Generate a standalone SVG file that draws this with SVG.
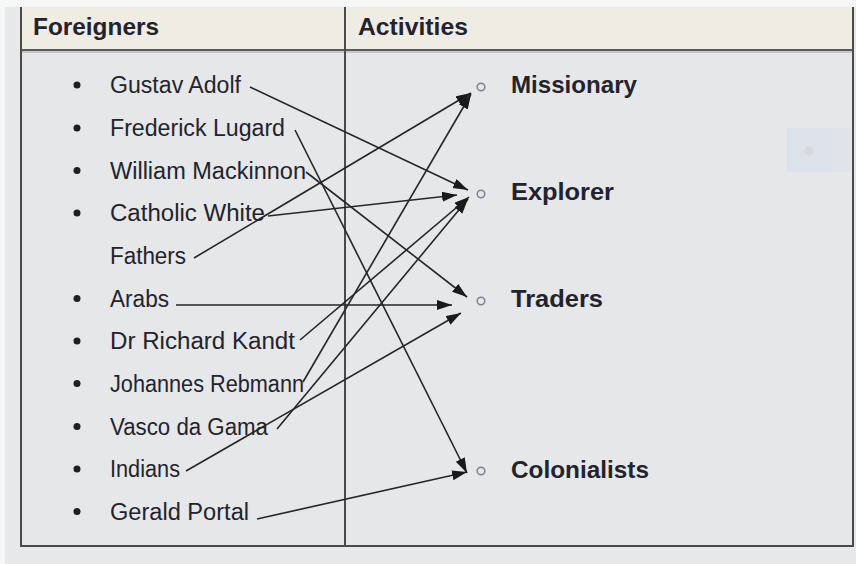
<svg xmlns="http://www.w3.org/2000/svg" width="856" height="564" viewBox="0 0 856 564">
  <style>
    .hdr { font-family: "Liberation Sans", Arial, sans-serif; font-weight: bold; font-size: 24px; fill: #23232e; }
    .item { font-family: "Liberation Sans", Arial, sans-serif; font-size: 23px; fill: #23232e; }
    .act { font-family: "Liberation Sans", Arial, sans-serif; font-weight: bold; font-size: 24px; fill: #23232e; }
    .bullet { fill: #1e1e24; }
    .ring { fill: none; stroke: #7d8294; stroke-width: 1.5; }
    .frame { fill: none; stroke: #4a4a4a; stroke-width: 2; }
    .link { fill: none; stroke: #262626; stroke-width: 1.6; marker-end: url(#arrow); }
  </style>
  <defs>
    <marker id="arrow" markerUnits="userSpaceOnUse" markerWidth="16" markerHeight="11" refX="15" refY="5" orient="auto">
      <path d="M0,0 L15,5 L0,10 Z" fill="#1a1a1a"/>
    </marker>
  </defs>

  <!-- page -->
  <rect x="0" y="0" width="856" height="564" fill="#f6f7f7"/>
  <rect x="5" y="7" width="851" height="557" fill="#e7e8ea"/>

  <!-- table -->
  <g id="table">
    <rect x="21" y="7" width="832" height="43" fill="#efece3"/>
    <rect x="21" y="50" width="832" height="496" fill="#e6e7e9"/>
    <line x1="21" y1="50" x2="853" y2="50" stroke="#5a5a5a" stroke-width="2"/>
    <line x1="21" y1="52" x2="853" y2="52" stroke="#a9a9a9" stroke-width="1"/>
    <line x1="345" y1="7" x2="345" y2="546" stroke="#4a4a4a" stroke-width="2"/>
    <path class="frame" d="M21,7 V546 H853 V7"/>
    <text class="hdr" x="33" y="35" textLength="126" lengthAdjust="spacingAndGlyphs">Foreigners</text>
    <text class="hdr" x="358" y="35" textLength="110" lengthAdjust="spacingAndGlyphs">Activities</text>
  </g>

  <!-- faint mark on the right -->
  <rect x="787" y="128" width="63" height="44" fill="#dce2e9"/>
  <rect x="832" y="128" width="18" height="44" fill="#e0e4ea"/>
  <circle cx="809" cy="151" r="4.5" fill="#d5d8dc"/>

  <!-- foreigners -->
  <g id="gustav-adolf"><circle class="bullet" cx="77" cy="85" r="3.5"/><text class="item" x="110" y="93" textLength="131" lengthAdjust="spacingAndGlyphs">Gustav Adolf</text></g>
  <g id="frederick-lugard"><circle class="bullet" cx="77" cy="128" r="3.5"/><text class="item" x="110" y="136" textLength="175" lengthAdjust="spacingAndGlyphs">Frederick Lugard</text></g>
  <g id="william-mackinnon"><circle class="bullet" cx="77" cy="170.5" r="3.5"/><text class="item" x="110" y="178.5" textLength="196" lengthAdjust="spacingAndGlyphs">William Mackinnon</text></g>
  <g id="catholic-white-fathers"><circle class="bullet" cx="77" cy="213" r="3.5"/><text class="item" x="110" y="221" textLength="155" lengthAdjust="spacingAndGlyphs">Catholic White</text><text class="item" x="110" y="263.5" textLength="76" lengthAdjust="spacingAndGlyphs">Fathers</text></g>
  <g id="arabs"><circle class="bullet" cx="77" cy="298.5" r="3.5"/><text class="item" x="110" y="306.5" textLength="59" lengthAdjust="spacingAndGlyphs">Arabs</text></g>
  <g id="richard-kandt"><circle class="bullet" cx="77" cy="341" r="3.5"/><text class="item" x="110" y="349" textLength="185" lengthAdjust="spacingAndGlyphs">Dr Richard Kandt</text></g>
  <g id="johannes-rebmann"><circle class="bullet" cx="77" cy="383.5" r="3.5"/><text class="item" x="110" y="391.5" textLength="194" lengthAdjust="spacingAndGlyphs">Johannes Rebmann</text></g>
  <g id="vasco-da-gama"><circle class="bullet" cx="77" cy="426.5" r="3.5"/><text class="item" x="110" y="434.5" textLength="158" lengthAdjust="spacingAndGlyphs">Vasco da Gama</text></g>
  <g id="indians"><circle class="bullet" cx="77" cy="469" r="3.5"/><text class="item" x="110" y="477" textLength="70" lengthAdjust="spacingAndGlyphs">Indians</text></g>
  <g id="gerald-portal"><circle class="bullet" cx="77" cy="511.5" r="3.5"/><text class="item" x="110" y="519.5" textLength="139" lengthAdjust="spacingAndGlyphs">Gerald Portal</text></g>

  <!-- activities -->
  <g id="missionary"><circle class="ring" cx="481" cy="87" r="3.8"/><text class="act" x="511" y="93" textLength="126" lengthAdjust="spacingAndGlyphs">Missionary</text></g>
  <g id="explorer"><circle class="ring" cx="481" cy="194" r="3.8"/><text class="act" x="511" y="200" textLength="103" lengthAdjust="spacingAndGlyphs">Explorer</text></g>
  <g id="traders"><circle class="ring" cx="481" cy="301" r="3.8"/><text class="act" x="511" y="307" textLength="92" lengthAdjust="spacingAndGlyphs">Traders</text></g>
  <g id="colonialists"><circle class="ring" cx="481" cy="471" r="3.8"/><text class="act" x="511" y="478" textLength="138" lengthAdjust="spacingAndGlyphs">Colonialists</text></g>

  <!-- connectors -->
  <g id="connectors">
    <line class="link" x1="250" y1="87" x2="468" y2="190"/>
    <line class="link" x1="295" y1="130" x2="467" y2="473"/>
    <line class="link" x1="306" y1="172" x2="467" y2="297"/>
    <line class="link" x1="268" y1="216" x2="457" y2="195"/>
    <line class="link" x1="194" y1="258" x2="471" y2="93"/>
    <line class="link" x1="176" y1="305" x2="452" y2="305"/>
    <line class="link" x1="300" y1="340" x2="469" y2="197"/>
    <line class="link" x1="303" y1="382" x2="471" y2="94"/>
    <line class="link" x1="277" y1="429" x2="468" y2="199"/>
    <line class="link" x1="186" y1="471" x2="461" y2="313"/>
    <line class="link" x1="257" y1="519" x2="467" y2="472"/>
  </g>
</svg>
